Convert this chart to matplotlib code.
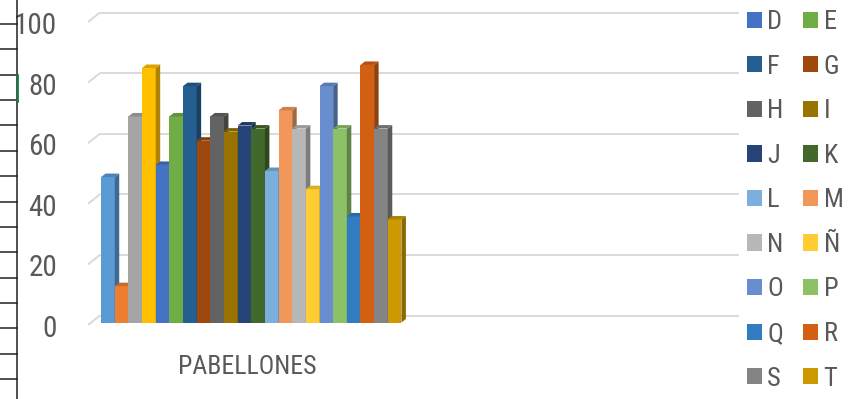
import matplotlib
matplotlib.use("Agg")
import matplotlib.pyplot as plt
import matplotlib.colors as mcolors
from matplotlib import font_manager as fm
from matplotlib.patches import Polygon, Patch
from matplotlib.lines import Line2D
from matplotlib.transforms import ScaledTranslation
import numpy as np

# ---- data -------------------------------------------------------------
categories = ["PABELLONES", ""]
series_names = ["A", "B", "C", "CH", "D", "E", "F", "G", "H", "I", "J",
                "K", "L", "M", "N", "Ñ", "O", "P", "Q", "R", "S", "T"]
values = [48, 12, 68, 84, 52, 68, 78, 60, 68, 63, 65,
          64, 50, 70, 64, 44, 78, 64, 35, 85, 64, 34]
yticks = [0, 20, 40, 60, 80, 100]

colors = ["#5B9BD5", "#ED7D31", "#A5A5A5", "#FFC000", "#4472C4", "#70AD47",
          "#255E91", "#9E480E", "#636363", "#997300", "#264478", "#43682B",
          "#7CAFDD", "#F1975A", "#B7B7B7", "#FFCD33", "#698ED0", "#8CC168",
          "#327DC2", "#D26012", "#848484", "#CC9A00"]


# ---- pick the narrowest sans face that is installed -----------------------
def narrow_font():
    fonts = fm.fontManager.ttflist
    names = {f.name for f in fonts}
    for fam in ["Noto Sans ExtraCondensed", "Noto Sans Condensed",
                "Liberation Sans Narrow", "Roboto Condensed",
                "Open Sans Condensed", "DejaVu Sans Condensed"]:
        if fam in names:
            return {"family": [fam, "DejaVu Sans"], "stretch": "normal"}
    for want in ["extra-condensed", "condensed", "semi-condensed"]:
        for fam in ["Noto Sans", "Roboto", "Open Sans", "DejaVu Sans", "Liberation Sans"]:
            for f in fonts:
                if f.name == fam and f.stretch == want and f.style == "normal":
                    return {"family": [fam, "DejaVu Sans"], "stretch": want}
    return {"family": ["DejaVu Sans"], "stretch": "condensed"}


NF = narrow_font()

# ---- figure -----------------------------------------------------------
W, H = 852, 399
fig = plt.figure(figsize=(W / 100, H / 100), dpi=100)
TEXT = "#595959"
GRID = "#D9D9D9"

# axes = front plane of the columns (pixel box)
ax_l, ax_r = 91.5, 730.5
ax_t, ax_b = 19.5, 322.5
ax = fig.add_axes([ax_l / W, 1 - ax_b / H, (ax_r - ax_l) / W, (ax_b - ax_t) / H])
ax.set_xlim(-0.5, 1.5)
ax.set_ylim(0, 100)
ax.patch.set_visible(False)
for s in ax.spines.values():
    s.set_visible(False)

px_x = (ax_r - ax_l) / 2.0      # pixels per x unit
px_y = (ax_b - ax_t) / 100.0    # pixels per y unit


def off(dx, dy):
    return dx / px_x, dy / px_y


# 3D walls: floor front edge and back wall offsets
fx, fy = off(-3.5, -2.5)
bx, by = off(8.5, 7.0)
x_left, x_right = -0.5, 1.5
for t in yticks:
    ax.plot([x_left + fx, x_left + bx], [t + fy, t + by], color=GRID, lw=1.4,
            zorder=1, clip_on=False, solid_capstyle="butt")
    ax.plot([x_left + bx, x_right + bx], [t + by, t + by], color=GRID, lw=1.4,
            zorder=1, clip_on=False, solid_capstyle="butt")

# columns
n = len(values)
group_w = 0.94
bw = group_w / n
xs = 0 - group_w / 2 + bw * (np.arange(n) + 0.5)
bars = ax.bar(xs, values, width=bw, color=colors, linewidth=0)
ddx, ddy = off(4.5, 3.5)


def shade(c, f):
    r, g, b = mcolors.to_rgb(c)
    return (r * f, g * f, b * f)


for i, (p, v, c) in enumerate(zip(bars, values, colors)):
    p.set_zorder(10 + 2 * i)
    x0 = p.get_x()
    x1 = x0 + p.get_width()
    side = Polygon([(x1, 0), (x1 + ddx, ddy), (x1 + ddx, v + ddy), (x1, v)],
                   closed=True, facecolor=shade(c, 0.68), edgecolor="none",
                   zorder=11 + 2 * i, clip_on=False)
    top = Polygon([(x0, v), (x1, v), (x1 + ddx, v + ddy), (x0 + ddx, v + ddy)],
                  closed=True, facecolor=shade(c, 0.85), edgecolor="none",
                  zorder=11 + 2 * i, clip_on=False)
    ax.add_patch(side)
    ax.add_patch(top)

# ticks and labels
ax.set_yticks(yticks)
ax.set_yticklabels([str(t) for t in yticks], fontfamily=NF["family"],
                   fontstretch=NF["stretch"], fontsize=21, color=TEXT)
ax.tick_params(axis="y", length=0, pad=24.8)
for lab in ax.get_yticklabels():
    lab.set_transform(lab.get_transform() + ScaledTranslation(0, -3.5 / 100, fig.dpi_scale_trans))

ax.set_xticks([0, 1])
ax.set_xticklabels(categories, fontfamily=NF["family"], fontstretch=NF["stretch"],
                   fontsize=18.5, color=TEXT)
ax.tick_params(axis="x", length=0, pad=23.5)
for lab in ax.get_xticklabels():
    lab.set_transform(lab.get_transform() + ScaledTranslation(-3.5 / 100, 0, fig.dpi_scale_trans))

# legend, two columns filled row by row
shown = list(range(4, n))
left_col = shown[0::2]
right_col = shown[1::2]
order = left_col + right_col
handles = [Patch(facecolor=colors[k], edgecolor="none") for k in order]
labels = [series_names[k] for k in order]
fig.legend(handles, labels, loc="upper left", bbox_to_anchor=(747 / W, 1 - 10 / H),
           ncol=2, frameon=False,
           prop=fm.FontProperties(family=NF["family"], stretch=NF["stretch"], size=19),
           labelcolor=TEXT, handlelength=0.57, handleheight=0.57,
           handletextpad=0.2, columnspacing=0.75, labelspacing=0.78,
           borderpad=0, borderaxespad=0)

# worksheet cells along the left edge
cell_x = 16.5
fig.add_artist(Line2D([cell_x / W, cell_x / W], [0, 1], transform=fig.transFigure,
                      color="#202020", lw=1.1))
for y in np.arange(24, H, 25.36):
    fig.add_artist(Line2D([0, cell_x / W], [1 - y / H, 1 - y / H], transform=fig.transFigure,
                          color="#202020", lw=1.1))
fig.add_artist(Line2D([cell_x / W, cell_x / W], [1 - 75 / H, 1 - 101 / H],
                      transform=fig.transFigure, color="#217346", lw=2.0))

fig.savefig("out.png", dpi=100)
